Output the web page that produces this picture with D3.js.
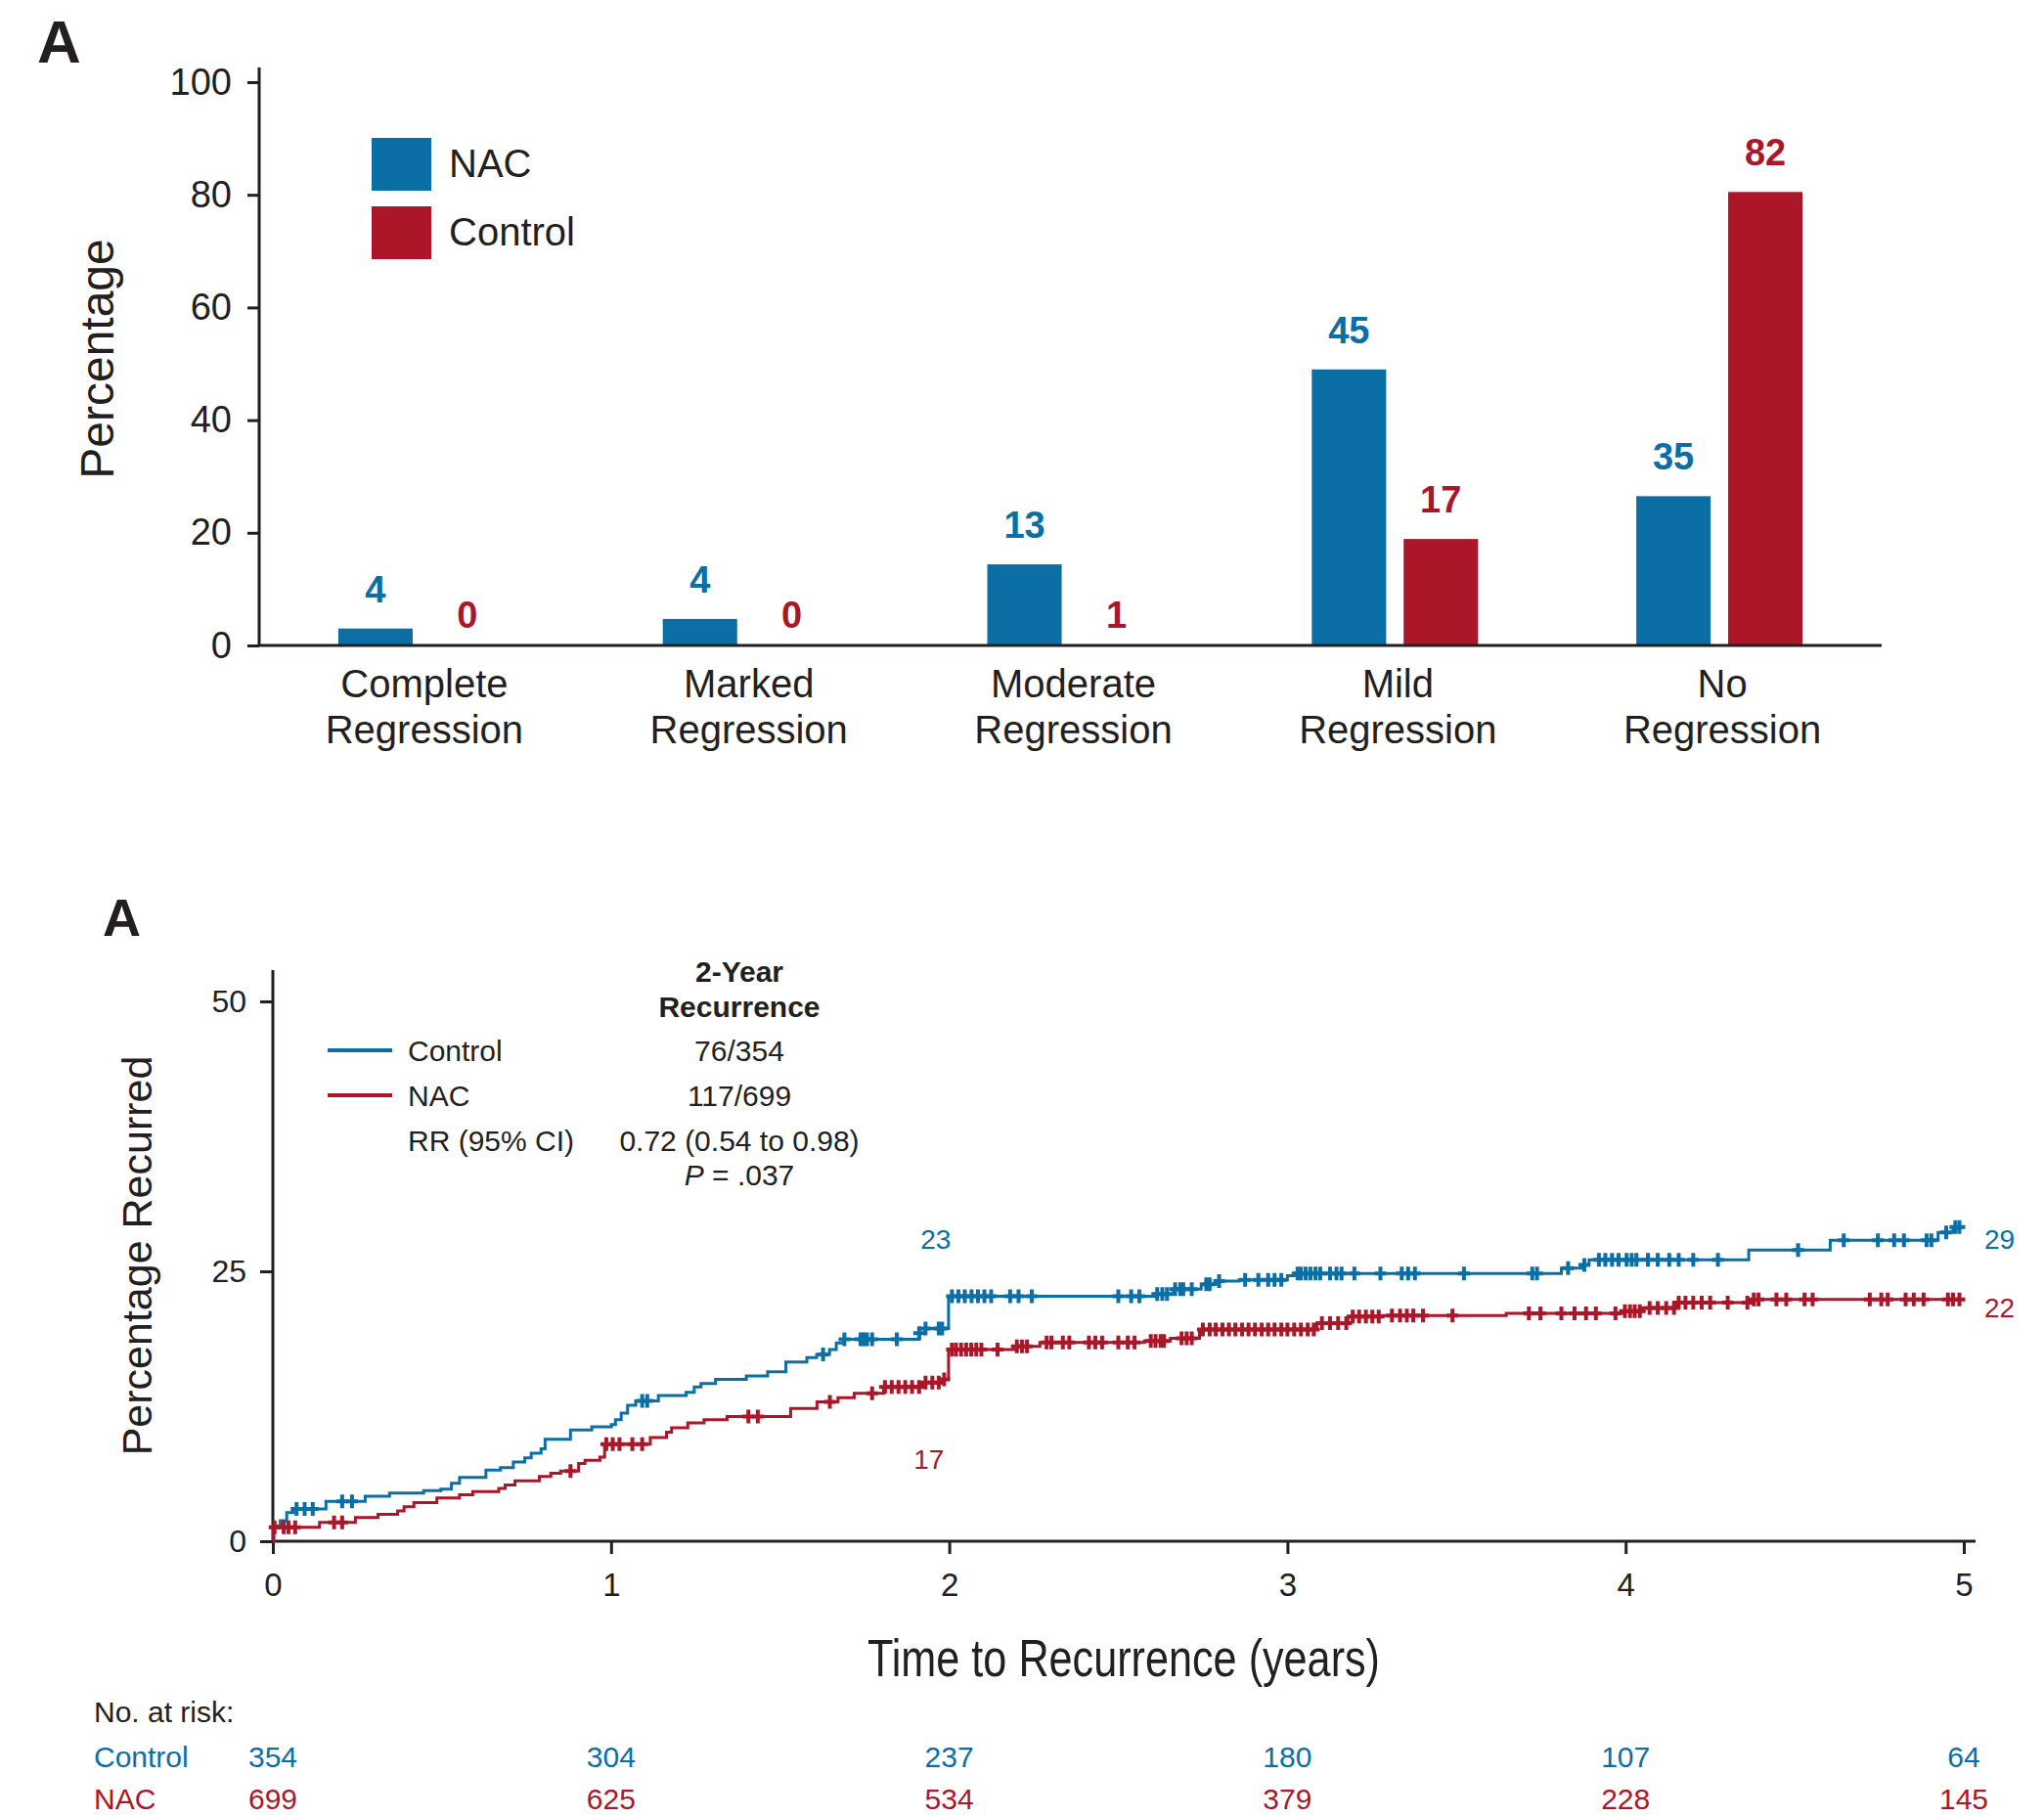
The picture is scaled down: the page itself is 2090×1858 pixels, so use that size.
<!DOCTYPE html>
<html>
<head>
<meta charset="utf-8">
<script src="https://cdn.jsdelivr.net/npm/d3@7"></script>
<style>
  body { margin: 0; background: #fff; }
  text { font-family: "Liberation Sans", Arial, sans-serif; }
</style>
</head>
<body>
<div id="container"></div>
<script>
let w = 2090;
let h = 1858;

let blue = "#0b6fa6";
let red = "#ab1729";
let ink = "#231f20";

// ---- top chart data ----
let categories = ["Complete Regression", "Marked Regression", "Moderate Regression", "Mild Regression", "No Regression"];
let groups = ["NAC", "Control"];
// bar heights as drawn in the figure
let nacBar = [3, 4.7, 14.4, 49, 26.5];
let controlBar = [0, 0, 0, 18.9, 80.5];
// printed values above bars
let nacLabel = ["4", "4", "13", "45", "35"];
let controlLabel = ["0", "0", "1", "17", "82"];
let barTicks = [0, 20, 40, 60, 80, 100];

// ---- KM data (percentage recurred, step after) ----
let controlTime = [0, 0.003, 0.022, 0.041, 0.06, 0.157, 0.273, 0.345, 0.446, 0.497, 0.528, 0.552, 0.63, 0.673, 0.711, 0.745, 0.764, 0.793, 0.805, 0.88, 0.943, 1.001, 1.013, 1.03, 1.049, 1.073, 1.14, 1.222, 1.246, 1.266, 1.309, 1.4, 1.463, 1.517, 1.579, 1.608, 1.646, 1.666, 1.69, 1.911, 1.93, 1.998, 2.61, 2.663, 2.745, 2.794, 2.857, 3.0, 3.02, 3.81, 3.868, 3.892, 4.364, 4.605, 4.924, 4.968];
let controlPct = [0, 1.4, 1.9, 2.66, 3.0, 3.7, 4.17, 4.47, 4.68, 4.83, 5.37, 5.92, 6.58, 6.82, 7.34, 7.73, 8.16, 8.55, 9.45, 10.3, 10.6, 10.8, 11.26, 11.86, 12.6, 13.0, 13.5, 13.8, 14.3, 14.6, 15.0, 15.3, 15.7, 16.6, 17.0, 17.3, 17.75, 18.36, 18.7, 19.26, 19.7, 22.7, 22.9, 23.35, 23.8, 24.1, 24.2, 24.6, 24.8, 25.3, 25.6, 26.06, 26.96, 27.87, 28.6, 29.1];
let nacTime = [0, 0.002, 0.138, 0.244, 0.311, 0.369, 0.388, 0.417, 0.485, 0.552, 0.591, 0.668, 0.687, 0.716, 0.788, 0.822, 0.851, 0.904, 0.923, 0.967, 0.981, 1.116, 1.164, 1.179, 1.227, 1.275, 1.343, 1.531, 1.609, 1.671, 1.719, 1.806, 1.92, 1.985, 1.998, 2.2, 2.268, 2.577, 2.654, 2.74, 3.087, 3.179, 3.28, 3.647, 3.993, 4.047, 4.148, 4.37];
let nacPct = [0, 1.3, 1.75, 2.2, 2.5, 2.8, 3.2, 3.58, 4.0, 4.3, 4.6, 4.9, 5.2, 5.6, 6.0, 6.3, 6.5, 7.2, 7.5, 7.8, 9.0, 9.6, 10.1, 10.5, 10.95, 11.25, 11.55, 12.3, 12.9, 13.3, 13.7, 14.3, 14.7, 15.0, 17.75, 18.05, 18.4, 18.55, 18.8, 19.6, 20.2, 20.8, 20.9, 21.1, 21.3, 21.6, 22.1, 22.4];
let controlCensor = [0.07, 0.094, 0.118, 0.205, 0.234, 1.092, 1.107, 1.627, 1.69, 1.738, 1.747, 1.757, 1.772, 1.845, 1.911, 1.93, 1.969, 1.979, 2.008, 2.027, 2.046, 2.066, 2.085, 2.104, 2.124, 2.18, 2.205, 2.244, 2.5, 2.538, 2.562, 2.615, 2.63, 2.644, 2.668, 2.683, 2.692, 2.717, 2.76, 2.77, 2.798, 2.875, 2.914, 2.943, 2.962, 2.982, 3.03, 3.04, 3.054, 3.068, 3.083, 3.097, 3.126, 3.145, 3.16, 3.198, 3.275, 3.338, 3.357, 3.377, 3.522, 3.724, 3.738, 3.83, 3.878, 3.921, 3.94, 3.96, 3.979, 4.003, 4.018, 4.032, 4.066, 4.095, 4.129, 4.157, 4.2, 4.273, 4.51, 4.645, 4.746, 4.794, 4.823, 4.89, 4.904, 4.948, 4.975, 4.987];
let nacCensor = [0.005, 0.032, 0.046, 0.066, 0.181, 0.205, 0.88, 0.986, 1.005, 1.025, 1.063, 1.092, 1.406, 1.434, 1.647, 1.772, 1.81, 1.83, 1.85, 1.87, 1.89, 1.911, 1.93, 1.95, 1.969, 1.985, 2.008, 2.02, 2.035, 2.05, 2.065, 2.08, 2.095, 2.143, 2.2, 2.215, 2.23, 2.288, 2.302, 2.336, 2.355, 2.413, 2.432, 2.452, 2.5, 2.528, 2.548, 2.596, 2.61, 2.625, 2.635, 2.687, 2.702, 2.717, 2.75, 2.77, 2.788, 2.808, 2.827, 2.846, 2.866, 2.885, 2.904, 2.924, 2.943, 2.962, 2.982, 3.0, 3.02, 3.04, 3.06, 3.078, 3.102, 3.126, 3.15, 3.174, 3.193, 3.212, 3.232, 3.251, 3.27, 3.309, 3.333, 3.353, 3.372, 3.401, 3.488, 3.714, 3.748, 3.81, 3.849, 3.883, 3.912, 3.97, 3.998, 4.013, 4.027, 4.042, 4.071, 4.095, 4.12, 4.143, 4.157, 4.177, 4.2, 4.225, 4.25, 4.302, 4.36, 4.379, 4.393, 4.446, 4.475, 4.529, 4.553, 4.722, 4.756, 4.775, 4.828, 4.852, 4.881, 4.953, 4.968, 4.987];
let kmTicksX = [0, 1, 2, 3, 4, 5];
let kmTicksY = [0, 25, 50];
let riskTime = [0, 1, 2, 3, 4, 5];
let controlRisk = [354, 304, 237, 180, 107, 64];
let nacRisk = [699, 625, 534, 379, 228, 145];

let viz = d3.select("#container")
  .append("svg")
    .attr("width", w)
    .attr("height", h)
    .style("background-color", "#ffffff");

// ================= top: bar chart =================
let barG = viz.append("g").attr("class", "bars");

let yTop = d3.scaleLinear().domain([0, 100]).range([660, 84]);
let xTop = d3.scaleBand().domain(categories).range([265, 1924]);
let xInner = d3.scaleBand().domain(groups).range([-85, 85]).paddingInner(0.19);

barG.append("text")
  .attr("x", 38).attr("y", 64)
  .attr("font-size", 62).attr("font-weight", "bold")
  .attr("fill", ink)
  .text("A");

barG.append("g")
  .attr("transform", "translate(265,0)")
  .call(d3.axisLeft(yTop).tickValues(barTicks).tickSize(12).tickPadding(16))
  .call(g => g.select(".domain").remove())
  .call(g => g.selectAll("line").attr("stroke", ink).attr("stroke-width", 3))
  .call(g => g.selectAll("text").attr("font-size", 38).attr("fill", ink)
    .style("font-family", "'Liberation Sans', Arial, sans-serif"));

barG.append("line")
  .attr("x1", 265).attr("x2", 265).attr("y1", 69).attr("y2", 661)
  .attr("stroke", ink).attr("stroke-width", 3);

barG.append("text")
  .attr("transform", "translate(116,367) rotate(-90)")
  .attr("text-anchor", "middle")
  .attr("font-size", 48).attr("fill", ink)
  .text("Percentage");

let barData = [];
categories.forEach((c, i) => {
  barData.push({cat: c, grp: "NAC", v: nacBar[i], label: nacLabel[i]});
  barData.push({cat: c, grp: "Control", v: controlBar[i], label: controlLabel[i]});
});

function barColor(d) { return d.grp == "NAC" ? blue : red; }
function barX(d) { return xTop(d.cat) + xTop.bandwidth() / 2 + xInner(d.grp); }

barG.selectAll(".bar").data(barData).enter()
  .append("rect")
    .attr("class", "bar")
    .attr("x", barX)
    .attr("y", d => yTop(d.v))
    .attr("width", xInner.bandwidth())
    .attr("height", d => yTop(0) - yTop(d.v))
    .attr("fill", barColor);

barG.selectAll(".barlabel").data(barData).enter()
  .append("text")
    .attr("class", "barlabel")
    .attr("x", d => barX(d) + xInner.bandwidth() / 2)
    .attr("y", d => yTop(d.v) - (d.v > 0 ? 27 : 18))
    .attr("text-anchor", "middle")
    .attr("font-size", 38)
    .attr("font-weight", "bold")
    .attr("fill", barColor)
    .text(d => d.label);

barG.append("line")
  .attr("x1", 264).attr("x2", 1924).attr("y1", 660).attr("y2", 660)
  .attr("stroke", ink).attr("stroke-width", 3);

let catLabels = barG.selectAll(".cat").data(categories).enter()
  .append("text")
    .attr("class", "cat")
    .attr("text-anchor", "middle")
    .attr("font-size", 40)
    .attr("fill", ink);
catLabels.each(function(c) {
  let parts = c.split(" ");
  let t = d3.select(this);
  let cx = xTop(c) + xTop.bandwidth() / 2 + 3;
  t.append("tspan").attr("x", cx).attr("y", 713).text(parts[0]);
  t.append("tspan").attr("x", cx).attr("y", 760).text(parts[1]);
});

// legend
let legTop = barG.append("g");
groups.forEach((gname, i) => {
  legTop.append("rect")
    .attr("x", 380).attr("y", 141 + i * 70)
    .attr("width", 61).attr("height", 54)
    .attr("fill", gname == "NAC" ? blue : red);
  legTop.append("text")
    .attr("x", 459).attr("y", 181 + i * 70)
    .attr("font-size", 40).attr("fill", ink)
    .text(gname);
});

// ================= bottom: KM curve =================
let km = viz.append("g").attr("class", "km");

let xKM = d3.scaleLinear().domain([0, 5]).range([279, 2008]);
let yKM = d3.scaleLinear().domain([0, 50]).range([1576, 1024]);

km.append("text")
  .attr("x", 105).attr("y", 957)
  .attr("font-size", 54).attr("font-weight", "bold")
  .attr("fill", ink)
  .text("A");

km.append("g")
  .attr("transform", "translate(279,0)")
  .call(d3.axisLeft(yKM).tickValues(kmTicksY).tickSize(13).tickPadding(14))
  .call(g => g.select(".domain").remove())
  .call(g => g.selectAll("line").attr("stroke", ink).attr("stroke-width", 3))
  .call(g => g.selectAll("text").attr("font-size", 32).attr("fill", ink)
    .style("font-family", "'Liberation Sans', Arial, sans-serif"));

km.append("g")
  .attr("transform", "translate(0,1576)")
  .call(d3.axisBottom(xKM).tickValues(kmTicksX).tickFormat(d3.format("d")).tickSize(13).tickPadding(20))
  .call(g => g.select(".domain").remove())
  .call(g => g.selectAll("line").attr("stroke", ink).attr("stroke-width", 3))
  .call(g => g.selectAll("text").attr("font-size", 33).attr("fill", ink)
    .style("font-family", "'Liberation Sans', Arial, sans-serif"));

km.append("line")
  .attr("x1", 279).attr("x2", 279).attr("y1", 992).attr("y2", 1577)
  .attr("stroke", ink).attr("stroke-width", 3);
km.append("line")
  .attr("x1", 278).attr("x2", 2020).attr("y1", 1576).attr("y2", 1576)
  .attr("stroke", ink).attr("stroke-width", 3);

km.append("text")
  .attr("transform", "translate(155,1284) rotate(-90)")
  .attr("text-anchor", "middle")
  .attr("font-size", 43).attr("fill", ink)
  .text("Percentage Recurred");

km.append("text")
  .attr("x", 1149).attr("y", 1714)
  .attr("text-anchor", "middle")
  .attr("font-size", 54).attr("fill", ink)
  .attr("textLength", 524).attr("lengthAdjust", "spacingAndGlyphs")
  .text("Time to Recurrence (years)");

let kmLine = d3.line()
  .x(d => xKM(d[0]))
  .y(d => yKM(d[1]))
  .curve(d3.curveStepAfter);

function steps(times, pcts) {
  let pts = times.map((t, i) => [t, pcts[i]]);
  pts.push([5, pcts[pcts.length - 1]]);
  return pts;
}

function valueAt(times, pcts, t) {
  let i = d3.bisectRight(times, t) - 1;
  return pcts[Math.max(0, i)];
}

let curves = [
  {name: "Control", times: controlTime, pcts: controlPct, censor: controlCensor, color: blue},
  {name: "NAC", times: nacTime, pcts: nacPct, censor: nacCensor, color: red}
];

curves.forEach(c => {
  km.append("path")
    .attr("d", kmLine(steps(c.times, c.pcts)))
    .attr("fill", "none")
    .attr("stroke", c.color)
    .attr("stroke-width", 3);

  let marks = km.append("g").attr("class", "censor");
  marks.selectAll("path").data(c.censor).enter()
    .append("path")
      .attr("d", t => {
        let x = xKM(t), y = yKM(valueAt(c.times, c.pcts, t));
        return "M" + (x - 6) + "," + y + "H" + (x + 6) + "M" + x + "," + (y - 7) + "V" + (y + 7);
      })
      .attr("stroke", c.color)
      .attr("stroke-width", 4)
      .attr("fill", "none");
});

// annotations at 2 and 5 years
km.append("text").attr("x", xKM(1.96)).attr("y", yKM(22.7) - 48)
  .attr("text-anchor", "middle").attr("font-size", 28).attr("fill", blue).text("23");
km.append("text").attr("x", xKM(1.94)).attr("y", yKM(15.0) + 92)
  .attr("text-anchor", "middle").attr("font-size", 28).attr("fill", red).text("17");
km.append("text").attr("x", xKM(5) + 21).attr("y", yKM(29.1) + 22)
  .attr("font-size", 28).attr("fill", blue).text("29");
km.append("text").attr("x", xKM(5) + 21).attr("y", yKM(22.4) + 18)
  .attr("font-size", 28).attr("fill", red).text("22");

// legend block
let leg = km.append("g").style("font-size", "30px");
leg.append("text").attr("x", 756).attr("y", 1004).attr("text-anchor", "middle")
  .attr("font-weight", "bold").attr("fill", ink).text("2-Year");
leg.append("text").attr("x", 756).attr("y", 1040).attr("text-anchor", "middle")
  .attr("font-weight", "bold").attr("fill", ink).text("Recurrence");

leg.append("line").attr("x1", 335).attr("x2", 401).attr("y1", 1074).attr("y2", 1074)
  .attr("stroke", blue).attr("stroke-width", 4);
leg.append("text").attr("x", 417).attr("y", 1085).attr("fill", ink).text("Control");
leg.append("text").attr("x", 756).attr("y", 1085).attr("text-anchor", "middle").attr("fill", ink).text("76/354");

leg.append("line").attr("x1", 335).attr("x2", 401).attr("y1", 1120).attr("y2", 1120)
  .attr("stroke", red).attr("stroke-width", 4);
leg.append("text").attr("x", 417).attr("y", 1131).attr("fill", ink).text("NAC");
leg.append("text").attr("x", 756).attr("y", 1131).attr("text-anchor", "middle").attr("fill", ink).text("117/699");

leg.append("text").attr("x", 417).attr("y", 1177).attr("fill", ink).text("RR (95% CI)");
leg.append("text").attr("x", 756).attr("y", 1177).attr("text-anchor", "middle").attr("fill", ink).text("0.72 (0.54 to 0.98)");
let pt = leg.append("text").attr("x", 756).attr("y", 1212).attr("text-anchor", "middle").attr("fill", ink);
pt.append("tspan").attr("font-style", "italic").text("P");
pt.append("tspan").text(" = .037");

// number at risk
let risk = km.append("g").style("font-size", "30px");
risk.append("text").attr("x", 96).attr("y", 1761).attr("fill", ink).text("No. at risk:");
risk.append("text").attr("x", 96).attr("y", 1807).attr("fill", blue).text("Control");
risk.append("text").attr("x", 96).attr("y", 1850).attr("fill", red).text("NAC");

risk.selectAll(".rc").data(controlRisk).enter()
  .append("text").attr("class", "rc")
    .attr("x", (d, i) => xKM(riskTime[i]))
    .attr("y", 1807)
    .attr("text-anchor", "middle")
    .attr("fill", blue)
    .text(d => d);
risk.selectAll(".rn").data(nacRisk).enter()
  .append("text").attr("class", "rn")
    .attr("x", (d, i) => xKM(riskTime[i]))
    .attr("y", 1850)
    .attr("text-anchor", "middle")
    .attr("fill", red)
    .text(d => d);
</script>
</body>
</html>
